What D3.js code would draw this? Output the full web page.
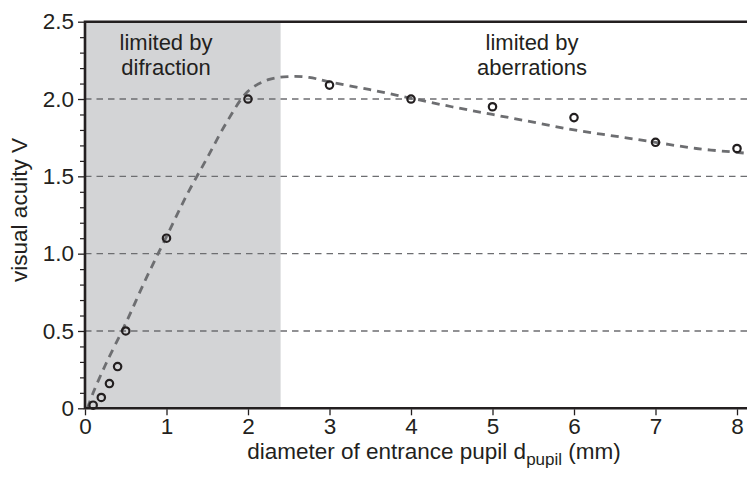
<!DOCTYPE html>
<html>
<head>
<meta charset="utf-8">
<script src="https://cdn.jsdelivr.net/npm/d3@7"></script>
<style>
  html, body { margin: 0; padding: 0; background: #fff; }
  svg { display: block; }
  text { font-family: "Liberation Sans", Arial, Helvetica, sans-serif; fill: #231f20; }
</style>
</head>
<body>
<svg id="chart" width="747" height="477"></svg>
<script>
// Measured visual acuity against pupil diameter
const pupilDiameter = [0.1, 0.2, 0.3, 0.4, 0.5, 1, 2, 3, 4, 5, 6, 7, 8];
const acuity        = [0.02, 0.07, 0.16, 0.27, 0.5, 1.1, 2.0, 2.09, 2.0, 1.95, 1.88, 1.72, 1.68];

// Model curve (dashed)
const modelDiameter = [0.03, 0.1, 0.25, 0.5, 0.75, 1.0, 1.25, 1.5, 1.75, 2.0, 2.25, 2.5, 2.75, 3.0, 3.5, 4.0, 4.5, 5.0, 5.5, 6.0, 6.5, 7.0, 7.5, 8.0, 8.1];
const modelAcuity   = [0.0, 0.1, 0.28, 0.55, 0.84, 1.11, 1.38, 1.62, 1.86, 2.05, 2.125, 2.145, 2.14, 2.11, 2.06, 2.005, 1.95, 1.9, 1.85, 1.8, 1.76, 1.72, 1.68, 1.655, 1.65];

const xTicks = [0, 1, 2, 3, 4, 5, 6, 7, 8];
const yTicks = [0, 0.5, 1.0, 1.5, 2.0, 2.5];
const yTickLabels = ["0", "0.5", "1.0", "1.5", "2.0", "2.5"];
const yMinorTicks = d3.range(1, 25).map(i => i / 10).filter(v => Math.abs(v * 2 - Math.round(v * 2)) > 1e-6);
const gridValues = [0.5, 1.0, 1.5, 2.0];
const diffractionLimit = 2.4;

const svg = d3.select("#chart");
const ink = "#231f20";
const dashGrey = "#6d6e71";
const fontSize = 22.5;

const x = d3.scaleLinear().domain([0, 8]).range([85, 737]);
const y = d3.scaleLinear().domain([0, 2.5]).range([408.3, 21.7]);
const xEnd = 8.25;

// diffraction-limited region
svg.append("rect")
  .attr("x", x(0)).attr("y", y(2.5))
  .attr("width", x(diffractionLimit) - x(0))
  .attr("height", y(0) - y(2.5))
  .attr("fill", "#d3d4d6");

// horizontal dashed guides
svg.append("g").selectAll("line").data(gridValues).join("line")
  .attr("x1", x(0)).attr("x2", x(xEnd))
  .attr("y1", d => y(d)).attr("y2", d => y(d))
  .attr("stroke", dashGrey).attr("stroke-width", 1.4)
  .attr("stroke-dasharray", "6.5,5");

// model curve
const line = d3.line()
  .x((d, i) => x(modelDiameter[i]))
  .y(d => y(d))
  .curve(d3.curveCatmullRom.alpha(0.5));
svg.append("path")
  .attr("d", line(modelAcuity))
  .attr("fill", "none")
  .attr("stroke", dashGrey).attr("stroke-width", 2.8)
  .attr("stroke-dasharray", "8,6");

// measurements
svg.append("g").selectAll("circle").data(acuity).join("circle")
  .attr("cx", (d, i) => x(pupilDiameter[i]))
  .attr("cy", d => y(d))
  .attr("r", 3.7)
  .attr("fill", "none")
  .attr("stroke", ink).attr("stroke-width", 2.2);

// frame: left, bottom, top
svg.append("path")
  .attr("d", `M${x(xEnd)},${y(2.5)}H${x(0)}V${y(0)}H${x(xEnd)}`)
  .attr("fill", "none").attr("stroke", ink).attr("stroke-width", 2.6);

// y axis
const yAxis = d3.axisLeft(y).tickValues(yTicks).tickFormat((d, i) => yTickLabels[i]).tickSize(6).tickPadding(4);
const gy = svg.append("g").attr("transform", `translate(${x(0) - 1},0)`).call(yAxis);
gy.select(".domain").remove();
gy.selectAll(".tick line").attr("stroke", ink).attr("stroke-width", 1.3);
gy.selectAll(".tick text").attr("font-size", fontSize).attr("fill", ink).style("font-family", "'Liberation Sans', Arial, sans-serif");

const yMinor = d3.axisLeft(y).tickValues(yMinorTicks).tickFormat("").tickSize(4);
const gym = svg.append("g").attr("transform", `translate(${x(0) - 1},0)`).call(yMinor);
gym.select(".domain").remove();
gym.selectAll(".tick line").attr("stroke", ink).attr("stroke-width", 1.2);

// x axis
const xAxis = d3.axisBottom(x).tickValues(xTicks).tickFormat(d3.format("d")).tickSize(6).tickPadding(3);
const gx = svg.append("g").attr("transform", `translate(0,${y(0) + 1})`).call(xAxis);
gx.select(".domain").remove();
gx.selectAll(".tick line").attr("stroke", ink).attr("stroke-width", 1.3);
gx.selectAll(".tick text").attr("font-size", fontSize).attr("fill", ink).style("font-family", "'Liberation Sans', Arial, sans-serif");

// axis titles
svg.append("text")
  .attr("transform", `translate(27,${(y(0) + y(2.5)) / 2 - 5}) rotate(-90)`)
  .attr("text-anchor", "middle").attr("font-size", fontSize)
  .text("visual acuity V");

const xt = svg.append("text")
  .attr("x", 434).attr("y", 459)
  .attr("text-anchor", "middle").attr("font-size", fontSize);
xt.append("tspan").text("diameter of entrance pupil d");
xt.append("tspan").attr("font-size", 17).attr("dy", 6).text("pupil");
xt.append("tspan").attr("dy", -6).text(" (mm)");

// region annotations, two lines each
const notes = [
  { cx: 166, lines: ["limited by", "difraction"] },
  { cx: 532, lines: ["limited by", "aberrations"] }
];
notes.forEach(n => {
  n.lines.forEach((s, i) => {
    svg.append("text")
      .attr("x", n.cx)
      .attr("y", 50 + i * 24.8)
      .attr("text-anchor", "middle").attr("font-size", 22)
      .text(s);
  });
});
</script>
</body>
</html>
